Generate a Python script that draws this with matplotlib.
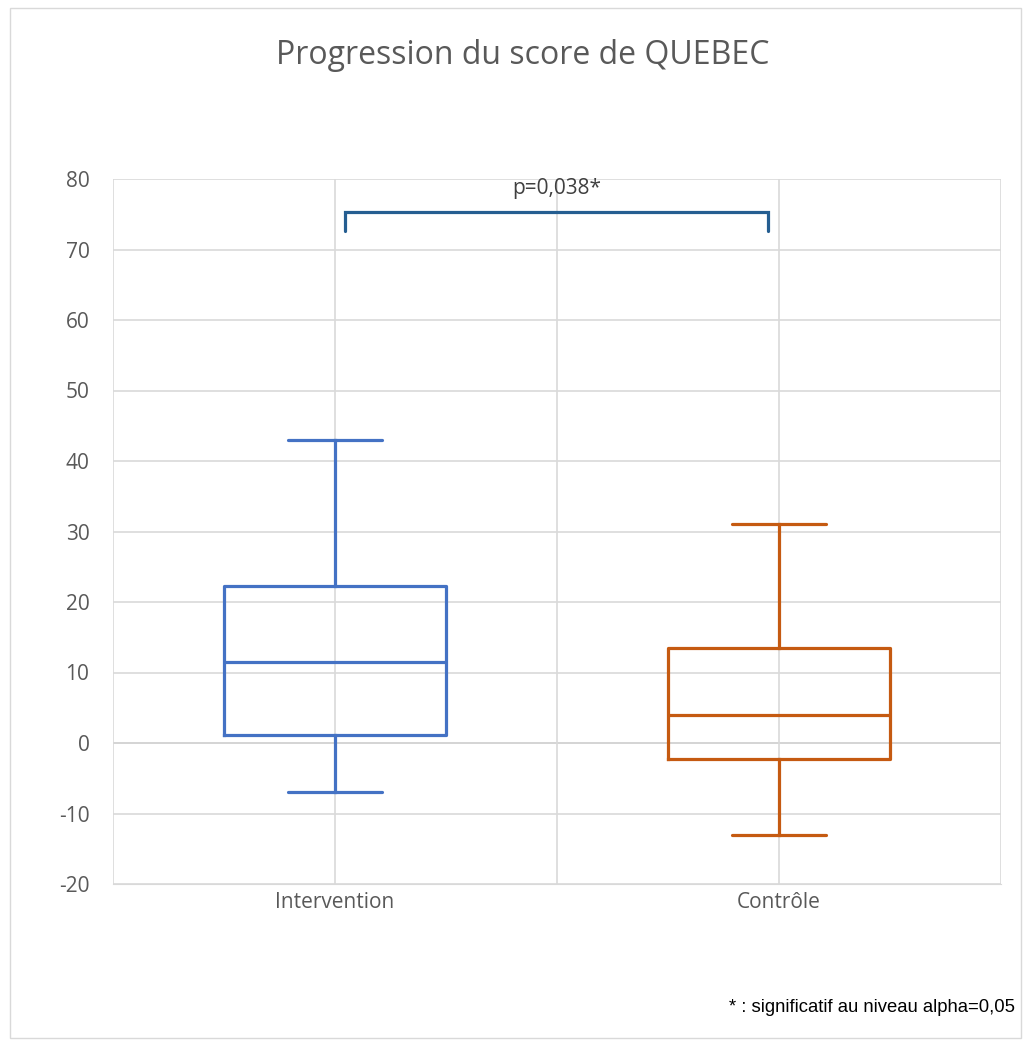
import matplotlib.pyplot as plt
from matplotlib.patches import Rectangle

# Box plot values
groups = ["Intervention", "Contrôle"]
whisker_low = [-7.0, -13.0]
q1 = [1.1, -2.3]
median = [11.5, 4.0]
q3 = [22.3, 13.5]
whisker_high = [43.0, 31.1]
colors = ["#4472C4", "#C55A11"]

p_text = "p=0,038*"
footnote = "* : significatif au niveau alpha=0,05"
title = "Progression du score de QUEBEC"

plt.rcParams["font.family"] = ["Open Sans", "DejaVu Sans"]
plt.rcParams["axes.unicode_minus"] = False

fig = plt.figure(figsize=(10.23, 10.41), dpi=100)
ax = fig.add_axes([113 / 1023, 1 - 884 / 1041, 888 / 1023, 705 / 1041])

# outer chart border
fig.patches.append(Rectangle((10 / 1023, 3 / 1041), 1011 / 1023, 1030 / 1041,
                             transform=fig.transFigure, fill=False,
                             edgecolor="#D9D9D9", linewidth=1))

for i in range(len(groups)):
    stats = [{"whislo": whisker_low[i], "q1": q1[i], "med": median[i],
              "q3": q3[i], "whishi": whisker_high[i], "fliers": []}]
    c = colors[i]
    lw = 2.3
    ax.bxp(stats, positions=[i + 1], widths=0.5, showfliers=False,
           boxprops=dict(color=c, linewidth=lw),
           medianprops=dict(color=c, linewidth=lw),
           whiskerprops=dict(color=c, linewidth=lw),
           capprops=dict(color=c, linewidth=lw, solid_capstyle="round"),
           capwidths=0.21, manage_ticks=False, zorder=3)

ax.set_xlim(0.5, 2.5)
ax.set_ylim(-20, 80)
ax.set_yticks(range(-20, 81, 10))
ax.set_xticks([0.5, 1, 1.5, 2, 2.5])
ax.set_xticklabels(["", groups[0], "", groups[1], ""])

ax.grid(True, color="#D9D9D9", linewidth=1.2, zorder=0)
ax.axhline(0, color="#BFBFBF", linewidth=1.3, zorder=1)
for s in ax.spines.values():
    s.set_visible(False)
ax.spines["bottom"].set_visible(True)
ax.spines["bottom"].set_color("#D9D9D9")
ax.tick_params(axis="both", which="both", length=0, labelsize=15,
               colors="#595959")
ax.tick_params(axis="y", pad=17)
ax.tick_params(axis="x", pad=6)

# significance bracket
ax.plot([1.0225, 1.0225, 1.975, 1.975], [72.6, 75.3, 75.3, 72.6],
        color="#255E91", linewidth=2.3, solid_capstyle="round",
        solid_joinstyle="miter", zorder=4)
ax.text(1.5, 78.7, p_text, ha="center", va="center", fontsize=15,
        color="#404040")

fig.text(523 / 1023, 1 - 55 / 1041, title, ha="center", va="center",
         fontsize=23, color="#595959")
fig.text(1015 / 1023, 1 - 1007 / 1041, footnote, ha="right", va="center",
         fontsize=13.3, color="#000000",
         family=["Liberation Sans Narrow", "Liberation Sans", "DejaVu Sans"])

fig.savefig("out.png", dpi=100)
